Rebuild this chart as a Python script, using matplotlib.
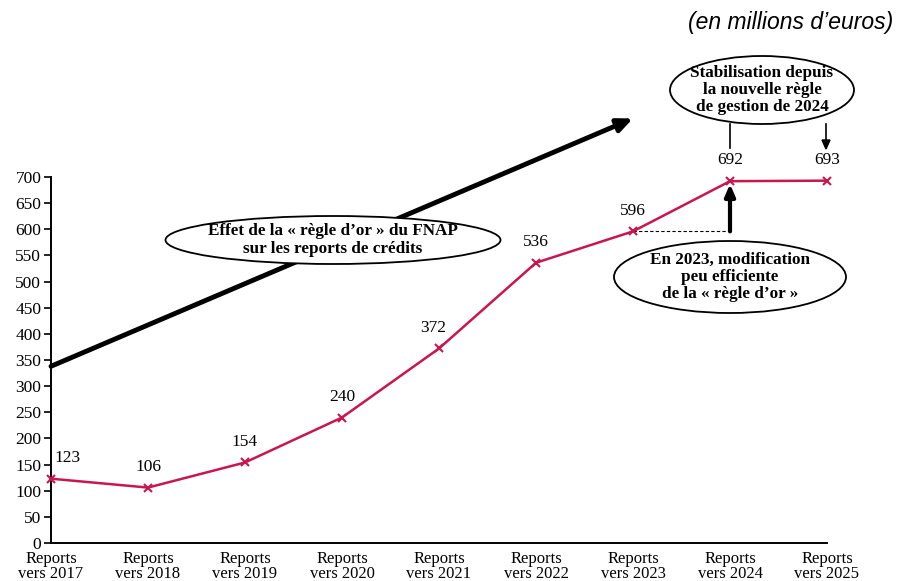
import matplotlib.pyplot as plt
from matplotlib.patches import Ellipse

categories = ['Reports\nvers 2017', 'Reports\nvers 2018', 'Reports\nvers 2019',
              'Reports\nvers 2020', 'Reports\nvers 2021', 'Reports\nvers 2022',
              'Reports\nvers 2023', 'Reports\nvers 2024', 'Reports\nvers 2025']
reports = [123, 106, 154, 240, 372, 536, 596, 692, 693]
label_dx = [12, 0, 0, 0, -4, 0, 0, 0, 0]  # points

W, H = 898, 581
plt.rcParams['font.family'] = ['Liberation Serif', 'DejaVu Serif']
fig = plt.figure(figsize=(W / 100, H / 100), dpi=100)
ax = fig.add_axes([51 / W, 1 - 543 / H, (827 - 51) / W, (543 - 177) / H])

def fx(px):
    return px / W

def fy(py):
    return 1 - py / H

x = list(range(len(categories)))
red = '#c8174e'
ax.plot(x, reports, color=red, lw=1.8, marker='x', ms=6, mew=1.5, clip_on=False, zorder=3)
for i, v in enumerate(reports):
    ax.annotate(str(v), (i, v), xytext=(label_dx[i], 15), textcoords='offset points',
                ha='center', va='center', fontsize=12.5, annotation_clip=False)

ax.set_xlim(0, 8)
ax.set_ylim(0, 700)
ax.set_yticks(range(0, 701, 50))
ax.set_xticks(x)
ax.set_xticklabels(categories, fontsize=12, linespacing=0.92)
ax.tick_params(axis='y', labelsize=12.5, length=5, width=1.2, pad=2)
ax.tick_params(axis='x', length=0, pad=6)
for s in ['top', 'right']:
    ax.spines[s].set_visible(False)
for s in ['left', 'bottom']:
    ax.spines[s].set_linewidth(1.4)

# big trend arrow
ax.annotate('', xy=(6.0, 812), xytext=(0, 338), xycoords='data',
            arrowprops=dict(arrowstyle='-|>,head_length=0.9,head_width=0.4',
                            lw=3.5, color='black', shrinkA=0, shrinkB=0),
            annotation_clip=False, zorder=2)

# dashed line from 2023 point
ax.plot([6, 7], [596, 596], color='black', ls=(0, (3, 2)), lw=0.8, zorder=2)
# thick arrow up to 2024 point
ax.annotate('', xy=(7, 692), xytext=(7, 596),
            arrowprops=dict(arrowstyle='-|>,head_length=0.7,head_width=0.3',
                            lw=3, color='black', shrinkA=0, shrinkB=2),
            zorder=2)

def bubble(cx, cy, w, h, text, fs=12.3):
    e = Ellipse((fx(cx), fy(cy)), w / W, h / H, transform=fig.transFigure,
                facecolor='white', edgecolor='black', lw=1.3, zorder=5)
    fig.patches.append(e)
    fig.text(fx(cx), fy(cy), text, ha='center', va='center', fontsize=fs,
             fontweight='bold', linespacing=1.12, zorder=6)

bubble(333, 240, 335, 48, 'Effet de la « règle d\u2019or » du FNAP\nsur les reports de crédits')
bubble(762, 90, 184, 68, 'Stabilisation depuis\nla nouvelle règle\nde gestion de 2024')
bubble(730, 277, 232, 72, 'En 2023, modification\npeu efficiente\nde la « règle d\u2019or »')

# connectors from the top bubble
fig.add_artist(plt.Line2D([fx(730), fx(730)], [fy(124), fy(148)], color='black', lw=1.2))
fig.add_artist(plt.Line2D([fx(826), fx(826)], [fy(124), fy(140)], color='black', lw=1.2))
fig.patches.append(plt.Polygon([[fx(822), fy(140)], [fx(830), fy(140)], [fx(826), fy(149)]],
                               closed=True, color='black', transform=fig.transFigure))

fig.text(fx(893), fy(22), '(en millions d\u2019euros)', ha='right', va='center',
         fontsize=16.5, style='italic', family='Liberation Sans')

fig.savefig('out.png', dpi=100)
